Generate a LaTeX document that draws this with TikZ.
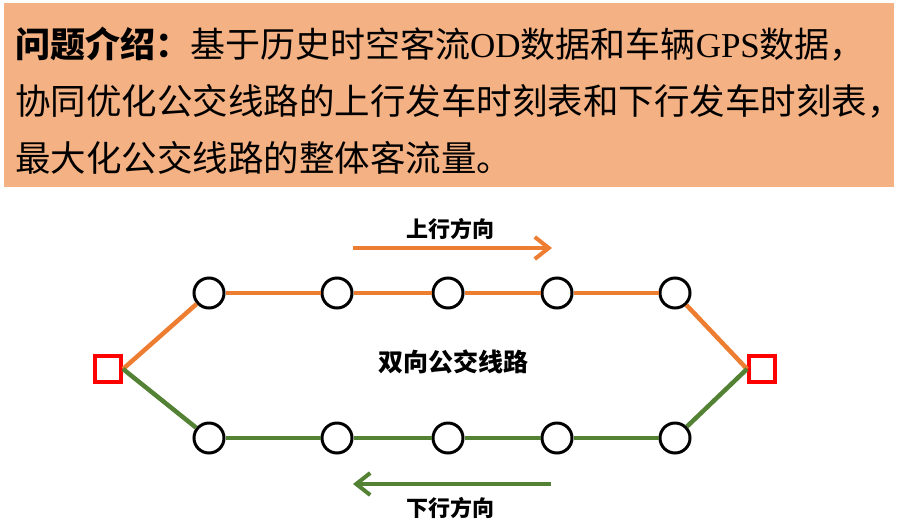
\documentclass[tikz,border=0pt]{standalone}
\usepackage{fontspec}
\setmainfont{Liberation Serif}
\newfontfamily\cjk{Noto Sans CJK SC}
\newfontfamily\lat{Liberation Serif}
\usetikzlibrary{arrows.meta}
\definecolor{boxfill}{HTML}{F4B183}
\definecolor{uporange}{HTML}{ED7D31}
\definecolor{downgreen}{HTML}{548235}
\definecolor{termred}{HTML}{FF0000}
\begin{document}
\begin{tikzpicture}[x=1pt,y=-1pt,
  stop/.style={circle,draw=black,line width=3pt,fill=white,minimum size=30pt,inner sep=0pt},
  terminal/.style={rectangle,draw=termred,line width=4pt,fill=white,minimum size=26pt,inner sep=0pt},
  upline/.style={draw=uporange,line width=4.5pt},
  downline/.style={draw=downgreen,line width=4.5pt},
  headline/.style={anchor=base west,inner sep=0pt,font=\cjk\fontsize{35}{40}\selectfont},
  label/.style={inner sep=0pt,font=\cjk\bfseries\fontsize{22}{26}\selectfont},
  dirarrow/.style={line width=4pt,-{Straight Barb[length=14pt,width=22pt]}}
]
\useasboundingbox (0,0) rectangle (901,525);
% problem box
\node[rectangle,fill=boxfill,minimum width=890pt,minimum height=184pt,inner sep=0pt,anchor=north west] (box) at (4,3) {};
\node[headline] (l1) at (15,57) {\textbf{问题介绍：}基于历史时空客流{\lat OD}数据和车辆{\lat GPS}数据，};
\node[headline,font=\cjk\fontsize{35.5}{40}\selectfont] (l2) at (15,114) {协同优化公交线路的上行发车时刻表和下行发车时刻表，};
\node[headline,font=\cjk\fontsize{35.5}{40}\selectfont] (l3) at (15,171) {最大化公交线路的整体客流量。};

% terminals
\node[terminal] (ls) at (108,369) {};
\node[terminal] (rs) at (762,369) {};
% upper stops
\node[stop] (u1) at (209,293) {};
\node[stop] (u2) at (337,293) {};
\node[stop] (u3) at (448,293) {};
\node[stop] (u4) at (557,293) {};
\node[stop] (u5) at (675,293) {};
% lower stops
\node[stop] (d1) at (209,438) {};
\node[stop] (d2) at (337,438) {};
\node[stop] (d3) at (448,438) {};
\node[stop] (d4) at (557,438) {};
\node[stop] (d5) at (675,438) {};

% connectors
\draw[upline] (ls.east) -- (u1);
\draw[upline] (u1) -- (u2);
\draw[upline] (u2) -- (u3);
\draw[upline] (u3) -- (u4);
\draw[upline] (u4) -- (u5);
\draw[upline] (u5) -- (rs.west);
\draw[downline] (ls.east) -- (d1);
\draw[downline] (d1) -- (d2);
\draw[downline] (d2) -- (d3);
\draw[downline] (d3) -- (d4);
\draw[downline] (d4) -- (d5);
\draw[downline] (d5) -- (rs.west);

% center label
\node[label,font=\cjk\bfseries\fontsize{25}{28}\selectfont] (mid) at (453,362) {双向公交线路};

% direction arrows
\coordinate (ua0) at (353,248);
\coordinate (ua1) at (552,248);
\draw[dirarrow,draw=uporange] (ua0) -- (ua1);
\node[label] (uplab) at (450,229) {上行方向};
\coordinate (da0) at (551,484);
\coordinate (da1) at (353,484);
\draw[dirarrow,draw=downgreen] (da0) -- (da1);
\node[label] (downlab) at (450,508) {下行方向};
\end{tikzpicture}
\end{document}
